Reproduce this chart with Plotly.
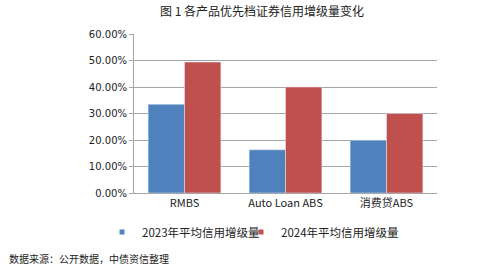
import plotly.graph_objects as go

categories = ["RMBS", "Auto Loan ABS", "消费贷ABS"]
series_2023 = [33.5, 16.3, 19.9]
series_2024 = [49.4, 40.0, 30.0]
series_names = ["2023年平均信用增级量", "2024年平均信用增级量"]
series_colors = ["#4F81BD", "#C0504D"]
y_ticks = [0, 10, 20, 30, 40, 50, 60]
y_tick_labels = ["0.00%", "10.00%", "20.00%", "30.00%", "40.00%", "50.00%", "60.00%"]

cjk = "Noto Sans CJK SC"

fig = go.Figure()
for vals, name, col in zip([series_2023, series_2024], series_names, series_colors):
    fig.add_trace(go.Bar(x=categories, y=vals, name=name, marker_color=col, showlegend=False))
for name, col, lg in zip(series_names, series_colors, ["legend", "legend2"]):
    fig.add_trace(go.Scatter(x=[categories[0]], y=[None], mode="markers", name=name, legend=lg,
                             marker=dict(symbol="square", size=5, color=col), showlegend=True))

leg_common = dict(xref="container", yref="container", y=1 - 232 / 269, yanchor="middle",
                  xanchor="left", font=dict(family=cjk, size=11.5, color="#222"),
                  itemwidth=30, bgcolor="rgba(0,0,0,0)", borderwidth=0)
fig.update_layout(
    width=499, height=269,
    margin=dict(l=134, r=62, t=34, b=76, autoexpand=False),
    paper_bgcolor="white", plot_bgcolor="white",
    barmode="group", bargap=0.28, bargroupgap=0,
    showlegend=True,
    legend=dict(x=102 / 499, **leg_common),
    legend2=dict(x=241 / 499, **leg_common),
    title=dict(text="图 1 各产品优先档证券信用增级量变化", x=0.525, xanchor="center", y=0.955, yanchor="middle",
               font=dict(family=cjk, size=12, color="#222")),
)
fig.update_yaxes(range=[0, 60], tickvals=y_ticks, ticktext=y_tick_labels,
                 showgrid=True, gridcolor="#A6A6A6", gridwidth=1,
                 showline=True, linecolor="#A6A6A6", linewidth=1,
                 ticks="outside", ticklen=4, tickcolor="#A6A6A6",
                 tickfont=dict(family="DejaVu Sans", size=10, color="#222"), zeroline=False)
fig.update_xaxes(showline=True, linecolor="#A6A6A6", linewidth=1, ticks="",
                 tickfont=dict(family=cjk, size=11, color="#222"))
fig.add_annotation(text="数据来源：公开数据，中债资信整理", xref="paper", yref="paper",
                   x=-127/303, xanchor="left", y=-65/159, yanchor="middle", showarrow=False,
                   font=dict(family=cjk, size=10, color="#222"))
fig.write_html("out.html")
